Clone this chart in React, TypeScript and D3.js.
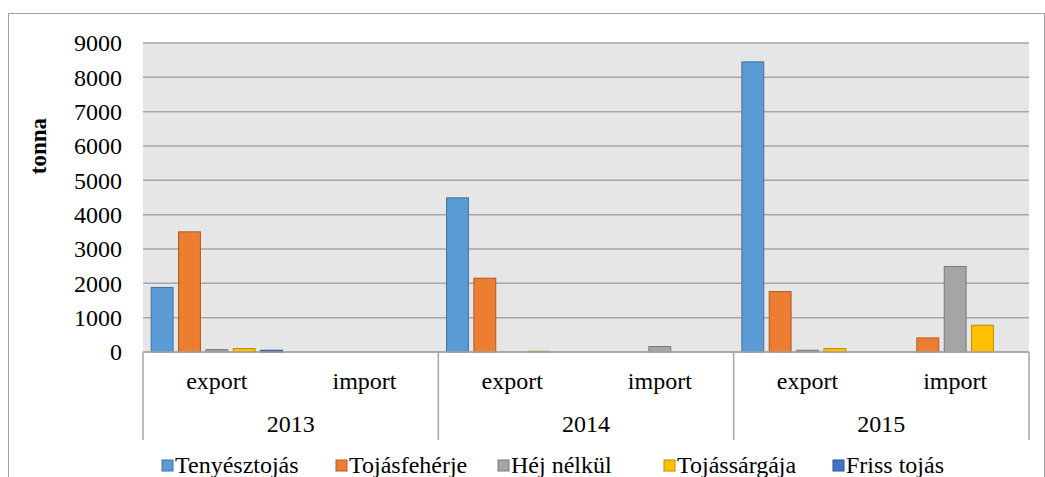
import React from "react";
import * as d3 from "d3";

const years = ["2013", "2014", "2015"];
const flows = ["export", "import"];
const seriesNames = ["Tenyésztojás", "Tojásfehérje", "Héj nélkül", "Tojássárgája", "Friss tojás"];
// values per (year, flow): 2013 export, 2013 import, 2014 export, 2014 import, 2015 export, 2015 import
const tenyesztojas = [1880, 0, 4490, 0, 8450, 0];
const tojasfeherje = [3500, 0, 2150, 0, 1760, 410];
const hejNelkul = [70, 0, 0, 160, 50, 2490];
const tojassargaja = [100, 0, 20, 0, 100, 780];
const frissTojas = [50, 0, 0, 0, 0, 0];
const yTicks = [0, 1000, 2000, 3000, 4000, 5000, 6000, 7000, 8000, 9000];

const seriesValues = [tenyesztojas, tojasfeherje, hejNelkul, tojassargaja, frissTojas];
const fills = ["#5B9BD5", "#ED7D31", "#A5A5A5", "#FFC000", "#4472C4"];
const strokes = ["#41719C", "#AE5A21", "#787878", "#BC8C00", "#2F528F"];

const W = 1045;
const H = 477;
const left = 143;
const right = 1029;
const top = 43;
const bottom = 352;
const font = "Times New Roman, Liberation Serif, Tinos, serif";

export default function App() {
  const cats = d3.range(years.length * flows.length);
  const x = d3.scaleBand<number>().domain(cats).range([left, right]);
  const inner = d3
    .scaleBand<number>()
    .domain(d3.range(seriesNames.length))
    .range([0, x.bandwidth()])
    .paddingInner(0.2)
    .paddingOuter(0.3);
  const y = d3.scaleLinear().domain([0, 9000]).range([bottom, top]);
  const yearW = (right - left) / years.length;

  const legendX = [162, 336, 498, 664, 833];

  return (
    <svg
      width={W}
      height={H}
      style={{ position: "absolute", left: 0, top: 0, background: "#fff", fontFamily: font }}
    >
      <rect x={8.5} y={13.5} width={1036} height={500} fill="#fff" stroke="#A0A0A0" strokeWidth={1} />
      <rect x={left} y={top} width={right - left} height={bottom - top} fill="#E7E6E6" />
      {yTicks.map((t) => (
        <line key={t} x1={left} x2={right} y1={y(t)} y2={y(t)} stroke="#A6A6A6" strokeWidth={1.5} />
      ))}
      {yTicks.map((t) => (
        <text
          key={"l" + t}
          x={122}
          y={y(t)}
          dy="0.35em"
          textAnchor="end"
          fontSize={24}
          fill="#000"
        >
          {t}
        </text>
      ))}
      <text
        transform={`translate(46,146) rotate(-90)`}
        textAnchor="middle"
        fontSize={23}
        fontWeight="bold"
      >
        tonna
      </text>
      {seriesValues.map((vals, si) =>
        vals.map((v, ci) =>
          v > 0 ? (
            <rect
              key={si + "-" + ci}
              x={(x(ci) as number) + (inner(si) as number)}
              y={y(v)}
              width={inner.bandwidth()}
              height={bottom - y(v)}
              fill={fills[si]}
              stroke={strokes[si]}
              strokeWidth={1}
            />
          ) : null
        )
      )}
      <line x1={left} x2={right} y1={bottom} y2={bottom} stroke="#A6A6A6" strokeWidth={1.5} />
      {d3.range(years.length + 1).map((i) => (
        <line
          key={"v" + i}
          x1={left + i * yearW}
          x2={left + i * yearW}
          y1={bottom}
          y2={440}
          stroke="#A6A6A6"
          strokeWidth={1.5}
        />
      ))}
      {cats.map((ci) => (
        <text
          key={"c" + ci}
          x={(x(ci) as number) + x.bandwidth() / 2}
          y={381}
          dy="0.35em"
          textAnchor="middle"
          fontSize={24}
        >
          {flows[ci % flows.length]}
        </text>
      ))}
      {years.map((yr, i) => (
        <text
          key={yr}
          x={left + (i + 0.5) * yearW}
          y={424}
          dy="0.35em"
          textAnchor="middle"
          fontSize={24}
        >
          {yr}
        </text>
      ))}
      {seriesNames.map((name, i) => (
        <g key={name} transform={`translate(${legendX[i]},465)`}>
          <rect x={0} y={-5} width={11} height={11} fill={fills[i]} stroke={strokes[i]} strokeWidth={1} />
          <text x={13} y={0} dy="0.35em" fontSize={24}>
            {name}
          </text>
        </g>
      ))}
    </svg>
  );
}
